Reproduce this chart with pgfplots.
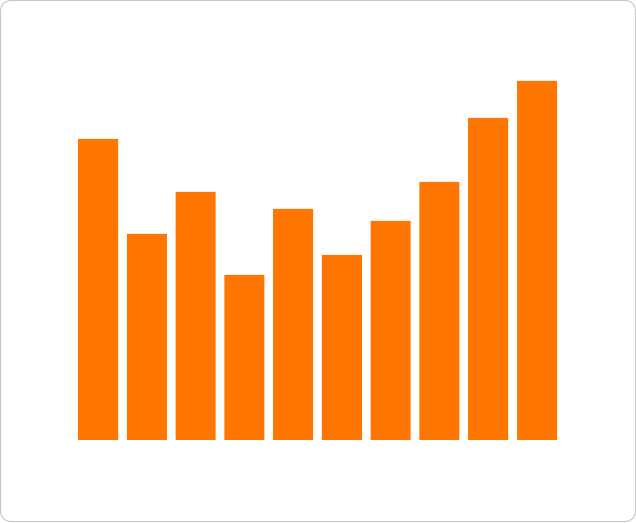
\documentclass[border=0pt]{standalone}
\usepackage{pgfplots}
\pgfplotsset{compat=1.18}
\definecolor{barorange}{HTML}{FF7700}
\definecolor{framegray}{HTML}{C8C8C8}
\begin{document}
\begin{tikzpicture}[x=1pt,y=1pt]
\begin{axis}[
  at={(0,0)}, anchor=south west,
  scale only axis, width=636pt, height=522pt,
  xmin=0, xmax=636, ymin=-82, ymax=440,
  hide axis, clip=false,
  ybar, bar width=40,
]
\addplot[fill=barorange, draw=none] coordinates {
(98,301) (146.8,206) (195.6,248) (244.3,165) (293.1,231)
(341.9,185) (390.7,219) (439.4,258) (488.2,322) (537,359)};
\end{axis}
\draw[framegray, line width=1pt, rounded corners=10pt] (0.5,0.5) rectangle (635.5,521.5);
\end{tikzpicture}
\end{document}
